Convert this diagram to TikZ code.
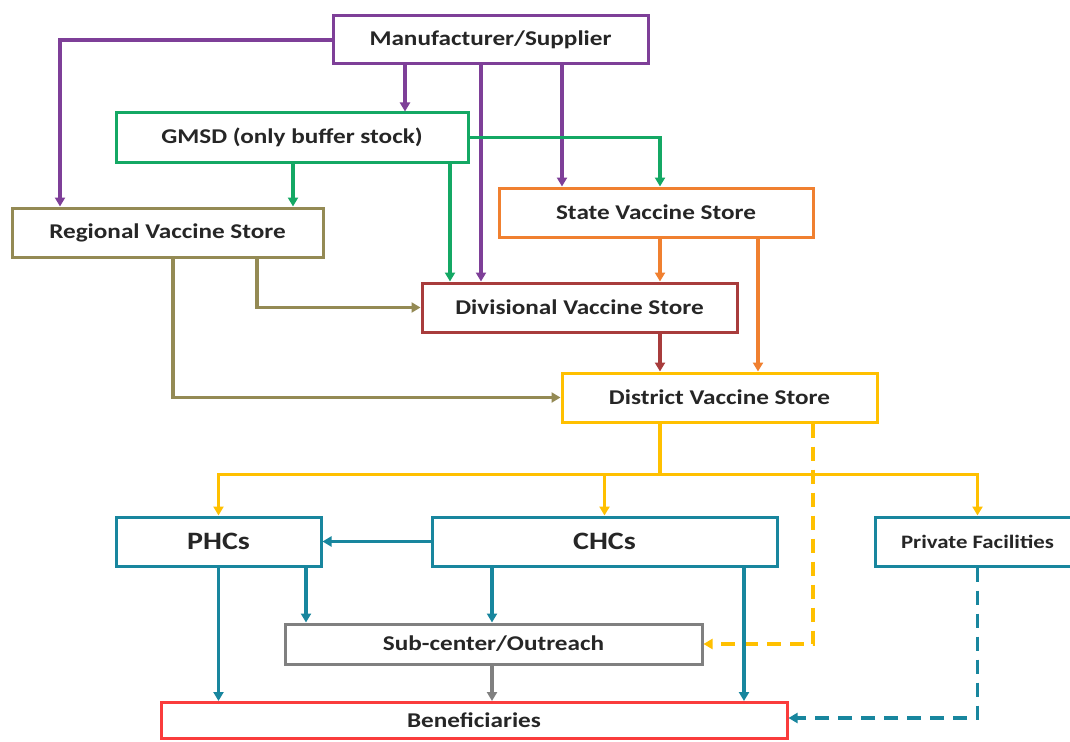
\documentclass[tikz,border=0pt]{standalone}
\usepackage{fontspec}
\setmainfont{Carlito}[FakeStretch=1.2]
\usetikzlibrary{arrows.meta,calc}
\definecolor{pur}{RGB}{126,63,152}
\definecolor{grn}{RGB}{20,168,100}
\definecolor{olv}{RGB}{148,138,84}
\definecolor{org}{RGB}{240,128,48}
\definecolor{drd}{RGB}{168,60,60}
\definecolor{yl}{RGB}{255,192,0}
\definecolor{tl}{RGB}{24,134,158}
\definecolor{gry}{RGB}{128,128,128}
\definecolor{rd}{RGB}{250,60,60}
\definecolor{txt}{RGB}{38,38,38}
\begin{document}
\begin{tikzpicture}[x=1pt,y=-1pt,
  box/.style={draw, line width=3pt, fill=white, inner sep=0pt, text=txt,
    font=\bfseries\fontsize{21}{25}\selectfont},
  bigbox/.style={box, font=\bfseries\fontsize{25}{30}\selectfont},
  smallbox/.style={box, font=\bfseries\fontsize{19}{23}\selectfont},
  arr/.style={line width=3.2pt, -{Triangle[length=9pt,width=10pt]}},
  dsh/.style={dash pattern=on 14pt off 9pt}]
\useasboundingbox (0,0) rectangle (1070,741);
\fill[white] (0,0) rectangle (1070,741);

\node[box, draw=pur, minimum width=315pt, minimum height=48pt] (mfr) at (490.5,40) {Manufacturer/Supplier};
\node[box, draw=grn, minimum width=352pt, minimum height=49pt] (gmsd) at (292,137.5) {GMSD (only buffer stock)};
\node[box, draw=olv, minimum width=311pt, minimum height=49pt] (reg) at (167.5,232.5) {Regional Vaccine Store};
\node[box, draw=org, minimum width=314pt, minimum height=49pt] (state) at (656,212.5) {State Vaccine Store};
\node[box, draw=drd, minimum width=315pt, minimum height=49pt] (div) at (579.5,307.5) {Divisional Vaccine Store};
\node[box, draw=yl, minimum width=315pt, minimum height=49pt] (dist) at (719.5,397.5) {District Vaccine Store};
\node[bigbox, draw=tl, minimum width=205pt, minimum height=49pt] (phc) at (218.5,541.5) {PHCs};
\node[bigbox, draw=tl, minimum width=345pt, minimum height=49pt] (chc) at (604.5,541.5) {CHCs};
\node[smallbox, draw=tl, minimum width=205pt, minimum height=49pt] (priv) at (977.5,541.5) {Private Facilities};
\node[box, draw=gry, minimum width=417pt, minimum height=40pt] (sub) at (493.5,644) {Sub-center/Outreach};
\node[box, draw=rd, minimum width=626pt, minimum height=36pt] (ben) at (474,720.5) {Beneficiaries};

\coordinate (m1) at ([xshift=-85.5pt]mfr.south);
\coordinate (m2) at ([xshift=-9.5pt]mfr.south);
\coordinate (m3) at ([xshift=71.5pt]mfr.south);
\coordinate (rr) at ([xshift=-107.5pt]reg.north);
\coordinate (sg) at ([xshift=4pt]state.north);
\coordinate (g1) at ([xshift=1pt]gmsd.south);
\coordinate (g2) at ([xshift=158pt]gmsd.south);
\coordinate (r1) at ([xshift=89.5pt]reg.south);
\coordinate (r2) at ([xshift=5.5pt]reg.south);
\coordinate (s1) at ([xshift=4pt]state.south);
\coordinate (s2) at ([xshift=102pt]state.south);
\coordinate (d1) at ([xshift=80.5pt]div.south);
\coordinate (t1) at ([xshift=-59.5pt]dist.south);
\coordinate (t2) at ([xshift=93.5pt]dist.south);
\coordinate (bus) at ([yshift=-51pt]t1);
\coordinate (p1) at ([xshift=87.5pt]phc.south);
\coordinate (c1) at ([xshift=-112.5pt]chc.south);
\coordinate (c2) at ([xshift=139.5pt]chc.south);
\coordinate (u1) at ([xshift=-1.5pt]sub.south);
\coordinate (be) at ([yshift=2.5pt]ben.east);

% purple
\draw[arr,pur] (mfr.west) -| (rr);
\draw[arr,pur] (m1) -- (m1 |- gmsd.north);
\draw[arr,pur] (m2) -- (m2 |- div.north);
\draw[arr,pur] (m3) -- (m3 |- state.north);
% green
\draw[arr,grn] (gmsd.east) -| (sg);
\draw[arr,grn] (g1) -- (g1 |- reg.north);
\draw[arr,grn] (g2) -- (g2 |- div.north);
% olive
\draw[arr,olv] (r1) |- (div.west);
\draw[arr,olv] (r2) |- (dist.west);
% orange
\draw[arr,org] (s1) -- (s1 |- div.north);
\draw[arr,org] (s2) -- (s2 |- dist.north);
% dark red
\draw[arr,drd] (d1) -- (d1 |- dist.north);
% yellow
\draw[yl, line width=3.2pt] (t1) -- (bus);
\draw[arr,yl] (bus) -| (phc.north);
\draw[arr,yl] (bus) -| (chc.north);
\draw[arr,yl] (bus) -| (priv.north);
\draw[arr,yl,dsh] (t2) |- (sub.east);
% teal
\draw[arr,tl] (chc.west) -- (phc.east);
\draw[arr,tl] (phc.south) -- (phc.south |- ben.north);
\draw[arr,tl] (p1) -- (p1 |- sub.north);
\draw[arr,tl] (c1) -- (c1 |- sub.north);
\draw[arr,tl] (c2) -- (c2 |- ben.north);
\draw[arr,tl,dsh] (priv.south) |- (be);
% grey
\draw[arr,gry] (u1) -- (u1 |- ben.north);
\end{tikzpicture}
\end{document}
